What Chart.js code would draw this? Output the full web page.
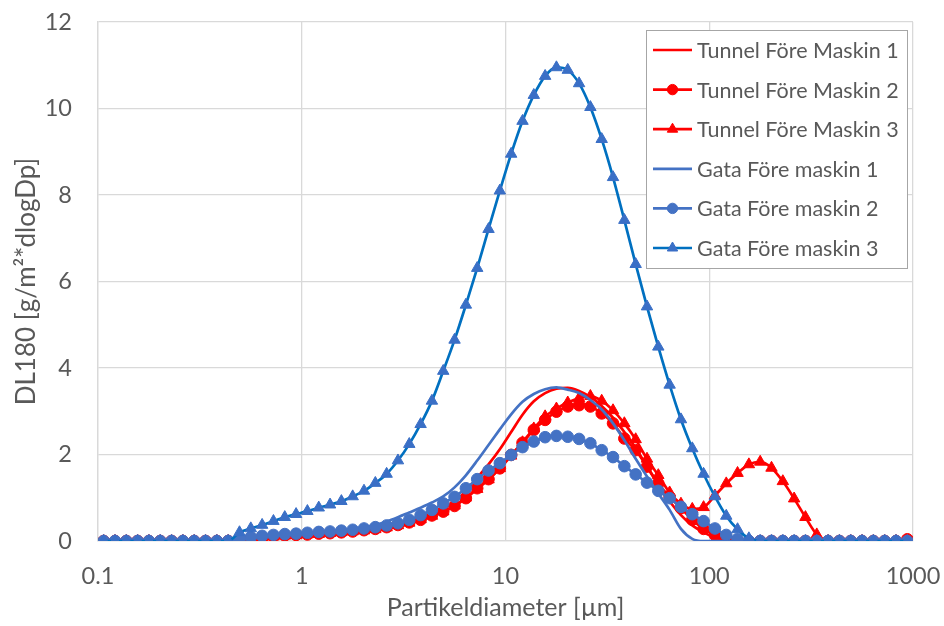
<!DOCTYPE html>
<html>
<head>
<meta charset="utf-8">
<script src="https://cdn.jsdelivr.net/npm/chart.js@4.4.0/dist/chart.umd.min.js"></script>
<style>
html, body { margin: 0; padding: 0; background: #fff; }
#wrap { width: 944px; height: 626px; }
</style>
</head>
<body>
<div id="wrap"><canvas id="myChart" width="944" height="626"></canvas></div>
<script>
// particle diameter bins [µm], 18 per decade
var diameters = [
	0.1066, 0.1212, 0.1377, 0.1565, 0.1778, 0.2021, 0.2297, 0.2610, 0.2966,
	0.3371, 0.3831, 0.4354, 0.4948, 0.5623, 0.6391, 0.7263, 0.8254, 0.9380,
	1.066, 1.212, 1.377, 1.565, 1.778, 2.021, 2.297, 2.610, 2.966,
	3.371, 3.831, 4.354, 4.948, 5.623, 6.391, 7.263, 8.254, 9.380,
	10.66, 12.12, 13.77, 15.65, 17.78, 20.21, 22.97, 26.10, 29.66,
	33.71, 38.31, 43.54, 49.48, 56.23, 63.91, 72.63, 82.54, 93.80,
	106.6, 121.2, 137.7, 156.5, 177.8, 202.1, 229.7, 261.0, 296.6,
	337.1, 383.1, 435.4, 494.8, 562.3, 639.1, 726.3, 825.4, 938.0
];

var tunnel1 = [
	0, 0, 0, 0, 0, 0, 0, 0, 0, 0, 0, 0,
	0.03, 0.06, 0.09, 0.11, 0.13, 0.15, 0.17, 0.19, 0.21, 0.23, 0.25, 0.28,
	0.32, 0.36, 0.41, 0.47, 0.55, 0.63, 0.75, 0.91, 1.15, 1.46, 1.77, 2.12,
	2.52, 2.92, 3.23, 3.42, 3.52, 3.54, 3.47, 3.33, 3.12, 2.85, 2.52, 2.15,
	1.72, 1.30, 0.92, 0.60, 0.36, 0.20, 0.08, 0.02,
	0, 0, 0, 0, 0, 0, 0, 0, 0, 0, 0, 0, 0, 0, 0, 0
];

var tunnel2 = [
	0, 0, 0, 0, 0, 0, 0, 0, 0, 0, 0, 0,
	0.02, 0.06, 0.09, 0.11, 0.13, 0.14, 0.15, 0.17, 0.18, 0.20, 0.22, 0.25,
	0.28, 0.32, 0.37, 0.43, 0.49, 0.59, 0.68, 0.81, 0.99, 1.22, 1.43, 1.68,
	1.99, 2.27, 2.57, 2.80, 2.99, 3.11, 3.14, 3.11, 2.95, 2.72, 2.37, 2.10,
	1.72, 1.33, 1.02, 0.76, 0.49, 0.28, 0.14, 0.06,
	0, 0, 0, 0, 0, 0, 0, 0, 0, 0, 0, 0, 0, 0, 0, 0.04
];

var tunnel3 = [
	0, 0, 0, 0, 0, 0, 0, 0, 0, 0, 0, 0,
	0.02, 0.05, 0.08, 0.10, 0.12, 0.13, 0.15, 0.16, 0.18, 0.20, 0.22, 0.24,
	0.27, 0.31, 0.36, 0.42, 0.50, 0.58, 0.68, 0.82, 1.00, 1.20, 1.42, 1.68,
	1.97, 2.28, 2.60, 2.88, 3.06, 3.20, 3.30, 3.35, 3.24, 3.02, 2.72, 2.35,
	1.90, 1.52, 1.12, 0.86, 0.74, 0.78, 1.05, 1.33, 1.57, 1.77, 1.83, 1.69,
	1.38, 0.98, 0.55, 0.15,
	0, 0, 0, 0, 0, 0, 0, 0
];

var gata1 = [
	0, 0, 0, 0, 0, 0, 0, 0, 0, 0, 0, 0,
	0.03, 0.07, 0.10, 0.12, 0.14, 0.16, 0.18, 0.20, 0.22, 0.25, 0.28, 0.32,
	0.37, 0.45, 0.55, 0.66, 0.77, 0.89, 1.03, 1.24, 1.52, 1.86, 2.22, 2.58,
	2.93, 3.22, 3.40, 3.51, 3.55, 3.50, 3.42, 3.26, 3.04, 2.72, 2.33, 1.90,
	1.49, 1.10, 0.72, 0.28, 0.05,
	0, 0, 0, 0, 0, 0, 0, 0, 0, 0, 0, 0, 0, 0, 0, 0, 0, 0, 0
];

var gata2 = [
	0, 0, 0, 0, 0, 0, 0, 0, 0, 0, 0, 0,
	0.04, 0.09, 0.12, 0.14, 0.16, 0.17, 0.19, 0.21, 0.22, 0.24, 0.26, 0.29,
	0.32, 0.36, 0.41, 0.49, 0.60, 0.72, 0.87, 1.02, 1.22, 1.43, 1.63, 1.80,
	1.99, 2.17, 2.30, 2.40, 2.43, 2.41, 2.36, 2.26, 2.10, 1.94, 1.73, 1.54,
	1.35, 1.16, 0.99, 0.79, 0.62, 0.46, 0.29, 0.14, 0.05,
	0, 0, 0, 0, 0, 0, 0, 0, 0, 0, 0, 0, 0, 0, 0
];

var gata3 = [
	0, 0, 0, 0, 0, 0, 0, 0, 0, 0, 0, 0,
	0.20, 0.29, 0.37, 0.46, 0.55, 0.62, 0.69, 0.77, 0.84, 0.92, 1.03, 1.16,
	1.34, 1.55, 1.86, 2.24, 2.70, 3.24, 3.93, 4.65, 5.46, 6.31, 7.21, 8.10,
	8.95, 9.71, 10.31, 10.75, 10.95, 10.89, 10.58, 10.03, 9.29, 8.41, 7.42, 6.40,
	5.42, 4.49, 3.61, 2.81, 2.14, 1.55, 1.03, 0.58, 0.27, 0.06,
	0, 0, 0, 0, 0, 0, 0, 0, 0, 0, 0, 0, 0, 0
];

var seriesLabels = [
	'Tunnel Före Maskin 1', 'Tunnel Före Maskin 2', 'Tunnel Före Maskin 3',
	'Gata Före maskin 1', 'Gata Före maskin 2', 'Gata Före maskin 3'
];

var xTickValues = [0.1, 1, 10, 100, 1000];

var textColor = '#595959';
var gridColor = '#d9d9d9';
var fontFamily = 'Lato, "Open Sans", sans-serif';

function toPoints(values) {
	var points = [];
	for (var i = 0; i < values.length; i++) {
		points.push({ x: diameters[i], y: values[i] });
	}
	return points;
}

function getDataset(values, label, color, markerColor, pointStyle, order) {
	var dataset = {};
	dataset.label = label;
	dataset.data = toPoints(values);
	dataset.borderColor = color;
	dataset.backgroundColor = markerColor;
	dataset.borderWidth = 2.7;
	dataset.fill = false;
	dataset.cubicInterpolationMode = 'monotone';
	dataset.order = order;
	if (pointStyle) {
		dataset.pointStyle = pointStyle;
		dataset.pointRadius = pointStyle === 'triangle' ? 6.6 : 5.8;
		dataset.pointBorderColor = markerColor;
		dataset.pointBackgroundColor = markerColor;
		dataset.pointBorderWidth = 1;
	} else {
		dataset.pointRadius = 0;
	}
	return dataset;
}

// legend drawn as a framed box inside the plot, like the original
var boxLegend = {
	id: 'boxLegend',
	afterDraw: function (chart) {
		var ctx = chart.ctx;
		var left = 646, top = 30, width = 261, height = 238;
		ctx.save();
		ctx.fillStyle = '#ffffff';
		ctx.fillRect(left, top, width, height);
		ctx.strokeStyle = '#a6a6a6';
		ctx.lineWidth = 1;
		ctx.strokeRect(left + 0.5, top + 0.5, width, height);
		var datasets = chart.data.datasets;
		for (var i = 0; i < datasets.length; i++) {
			var ds = datasets[i];
			var y = 50 + i * 39.6;
			ctx.strokeStyle = ds.borderColor;
			ctx.lineWidth = ds.borderWidth;
			ctx.beginPath();
			ctx.moveTo(653, y);
			ctx.lineTo(692, y);
			ctx.stroke();
			if (ds.pointRadius > 0) {
				ctx.fillStyle = ds.pointBackgroundColor;
				ctx.strokeStyle = ds.pointBorderColor;
				ctx.lineWidth = 1;
				Chart.helpers.drawPoint(ctx, {
					pointStyle: ds.pointStyle,
					radius: ds.pointRadius - 0.6,
					borderWidth: 1,
					rotation: 0
				}, 672.5, y);
			}
			ctx.fillStyle = textColor;
			ctx.font = '21.5px ' + fontFamily;
			ctx.textAlign = 'left';
			ctx.textBaseline = 'middle';
			ctx.fillText(ds.label, 697, y + 1);
		}
		ctx.restore();
	}
};

var data = {
	datasets: [
		getDataset(tunnel1, seriesLabels[0], '#ff0000', '#ff0000', null, 6),
		getDataset(tunnel2, seriesLabels[1], '#ff0000', '#ff0000', 'circle', 5),
		getDataset(tunnel3, seriesLabels[2], '#ff0000', '#ff0000', 'triangle', 4),
		getDataset(gata1, seriesLabels[3], '#4472c4', '#4472c4', null, 3),
		getDataset(gata2, seriesLabels[4], '#4472c4', '#4472c4', 'circle', 2),
		getDataset(gata3, seriesLabels[5], '#0070c0', '#3a6fc6', 'triangle', 1)
	]
};

var myChart = new Chart(document.getElementById('myChart').getContext('2d'), {
	type: 'line',
	data: data,
	plugins: [boxLegend],
	options: {
		responsive: false,
		animation: false,
		layout: { padding: { left: 0, right: 31, top: 22, bottom: 0 } },
		plugins: {
			legend: { display: false },
			tooltip: { enabled: false }
		},
		scales: {
			x: {
				type: 'logarithmic',
				min: 0.1,
				max: 1000,
				afterBuildTicks: function (scale) {
					scale.ticks = xTickValues.map(function (v) { return { value: v }; });
				},
				afterFit: function (scale) {
					scale.height = 85;
					scale.paddingLeft = 0;
					scale.paddingRight = 0;
				},
				ticks: {
					autoSkip: false,
					maxRotation: 0,
					padding: 21,
					color: textColor,
					font: { family: fontFamily, size: 23.5 },
					callback: function (value) { return String(value); }
				},
				grid: { color: gridColor, lineWidth: 1.3, drawTicks: false },
				border: { color: gridColor, width: 1.3 },
				title: {
					display: true,
					text: 'Partikeldiameter [µm]',
					color: textColor,
					font: { family: fontFamily, size: 25 },
					padding: { top: 0, bottom: 3 }
				}
			},
			y: {
				min: 0,
				max: 12,
				afterFit: function (scale) {
					scale.width = 98;
					scale.paddingTop = 0;
					scale.paddingBottom = 0;
				},
				ticks: {
					stepSize: 2,
					padding: 26,
					color: textColor,
					font: { family: fontFamily, size: 23.5 }
				},
				grid: { color: gridColor, lineWidth: 1.3, drawTicks: false },
				border: { color: gridColor, width: 1.3 },
				title: {
					display: true,
					text: 'DL180 [g/m²*dlogDp]',
					color: textColor,
					font: { family: fontFamily, size: 26 },
					padding: { top: 11, bottom: 0 }
				}
			}
		}
	}
});
</script>
</body>
</html>
